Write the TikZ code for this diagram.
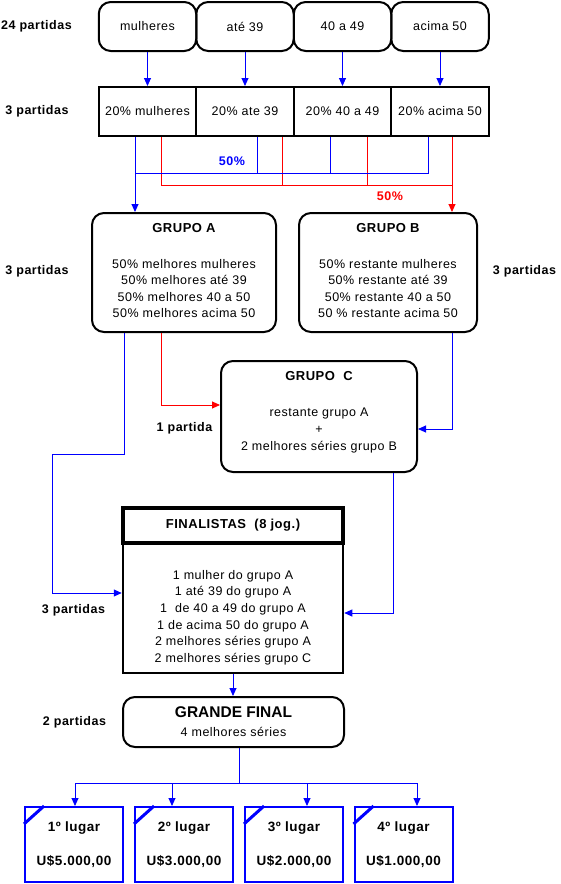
\documentclass[tikz,border=0pt]{standalone}
\usepackage{fontspec}
\setmainfont{Liberation Sans}[LetterSpace=4]
\newfontfamily\grandefonte{Liberation Sans}
\usetikzlibrary{arrows.meta,positioning}

\newcommand{\txt}{\fontsize{12.5}{16.5}\selectfont}
\newcommand{\txtb}{\fontsize{12.5}{16.5}\selectfont\bfseries}

\begin{document}
\begin{tikzpicture}[x=1pt,y=-1pt,
    seta/.style={-{Triangle[length=8pt,width=7pt]}},
    azul/.style={blue,line width=0.9pt},
    verm/.style={red,line width=0.9pt},
    caixa/.style={draw,line width=2pt,rounded corners=12pt,inner sep=0pt,align=center,font=\txt},
    celula/.style={draw,line width=2pt,minimum width=97.5pt,minimum height=49pt,inner sep=0pt,font=\txt},
    texto/.style={align=center,inner sep=0pt,font=\txt},
    rotulo/.style={font=\txtb,inner sep=0pt},
    premio/.style={draw=blue,line width=2pt,minimum width=98pt,minimum height=75pt,align=center,font=\fontsize{13.5}{16.5}\selectfont\bfseries,inner sep=0pt},
    canto/.style={blue,line width=3pt},
    ]
    \useasboundingbox (0,0) rectangle (560,884);

    % linha de cima
    \node[caixa,minimum width=97.5pt,minimum height=49pt] (mulheres) at (147.5,26.5) {mulheres};
    \node[caixa,minimum width=97.5pt,minimum height=49pt] (ate) at (245,26.5) {até 39};
    \node[caixa,minimum width=97.5pt,minimum height=49pt] (quarenta) at (342.5,26.5) {40 a 49};
    \node[caixa,minimum width=97.5pt,minimum height=49pt] (acima) at (440,26.5) {acima 50};

    \node[celula] (pmulheres) at (147.5,111.5) {20\% mulheres};
    \node[celula] (pate) at (245,111.5) {20\% ate 39};
    \node[celula] (pquarenta) at (342.5,111.5) {20\% 40 a 49};
    \node[celula] (pacima) at (440,111.5) {20\% acima 50};

    \draw[azul,seta] (mulheres) -- (pmulheres);
    \draw[azul,seta] (ate) -- (pate);
    \draw[azul,seta] (quarenta) -- (pquarenta);
    \draw[azul,seta] (acima) -- (pacima);

    % grupos
    \node[caixa,minimum width=184pt,minimum height=119pt] (grpA) at (184,272.5) {};
    \node[rotulo,font=\fontsize{13}{16.5}\selectfont\bfseries] (grpAtit) at (184,228) {GRUPO A};
    \node[texto] (grpAtxt) at (184,288.5) {50\% melhores mulheres\\50\% melhores até 39\\50\% melhores 40 a 50\\50\% melhores acima 50};

    \node[caixa,minimum width=178pt,minimum height=119pt] (grpB) at (388,272.5) {};
    \node[rotulo,font=\fontsize{13}{16.5}\selectfont\bfseries] (grpBtit) at (388,228) {GRUPO B};
    \node[texto] (grpBtxt) at (388,288.5) {50\% restante mulheres\\50\% restante até 39\\50\% restante 40 a 50\\50 \% restante acima 50};

    \node[caixa,minimum width=196pt,minimum height=111pt] (grpC) at (319,416.5) {};
    \node[rotulo,font=\fontsize{13}{16.5}\selectfont\bfseries] (grpCtit) at (319,376) {GRUPO\ \ C};
    \node[texto,font=\fontsize{12.5}{17}\selectfont] (grpCtxt) at (319,430) {restante grupo A\\+\\2 melhores séries grupo B};

    % 50% de cada categoria
    \coordinate (busazul) at (0,173);
    \coordinate (busverm) at (0,185);
    \draw[verm] ([xshift=13.5pt]pmulheres.south) |- ([xshift=12pt]pacima.south |- busverm);
    \draw[verm] ([xshift=37pt]pate.south) -- ([xshift=37pt]pate.south |- busverm);
    \draw[verm] ([xshift=24.5pt]pquarenta.south) -- ([xshift=24.5pt]pquarenta.south |- busverm);
    \draw[verm,seta] ([xshift=12pt]pacima.south) -- ([xshift=12pt]pacima.south |- grpB.north);
    \draw[azul] ([xshift=12pt]pate.south) -- ([xshift=12pt]pate.south |- busazul);
    \draw[azul] ([xshift=-12.5pt]pquarenta.south) -- ([xshift=-12.5pt]pquarenta.south |- busazul);
    \draw[azul] ([xshift=-12pt]pacima.south) |- ([xshift=-12.5pt]pmulheres.south |- busazul);
    \draw[azul,seta] ([xshift=-12.5pt]pmulheres.south) -- ([xshift=-12.5pt]pmulheres.south |- grpA.north);

    \node[rotulo,text=blue] (pcazul) at (232,161) {50\%};
    \node[rotulo,text=red] (pcverm) at (390,196) {50\%};

    % finalistas
    \node[draw,line width=2.5pt,minimum width=220pt,minimum height=130pt,inner sep=0pt] (finBody) at (233,608) {};
    \node[draw,line width=3.5pt,minimum width=220pt,minimum height=35pt,inner sep=0pt,font=\fontsize{13}{16.5}\selectfont\bfseries] (finHead) at (233,525.5) {FINALISTAS\ \ (8 jog.)};
    \node[texto,font=\fontsize{12.5}{16.6}\selectfont] (finTxt) at (233,617.5) {1 mulher do grupo A\\1 até 39 do grupo A\\1\ \ de 40 a 49 do grupo A\\1 de acima 50 do grupo A\\2 melhores séries grupo A\\2 melhores séries grupo C};

    \draw[verm,seta] ([xshift=-23pt]grpA.south) |- ([yshift=11.5pt]grpC.west);
    \draw[azul,seta] ([xshift=64pt]grpB.south) |- ([yshift=-12.5pt]grpC.east);
    \coordinate (dobra) at (52,454);
    \draw[azul,seta] ([xshift=-60pt]grpA.south) |- (dobra) |- ([yshift=15pt]finBody.west);
    \draw[azul,seta] ([xshift=74pt]grpC.south) |- ([yshift=-5pt]finBody.east);

    % grande final
    \node[caixa,minimum width=221pt,minimum height=50pt] (gfinal) at (233.5,722) {{\grandefonte\fontsize{15.5}{18}\selectfont\bfseries GRANDE FINAL}\\[2.5pt]4 melhores séries};
    \draw[azul,seta] (finBody.south) -- (finBody.south |- gfinal.north);

    % premios
    \node[premio] (l1) at (74,844.5) {1º lugar\\[17.5pt]U\$5.000,00};
    \node[premio] (l2) at (184,844.5) {2º lugar\\[17.5pt]U\$3.000,00};
    \node[premio] (l3) at (294,844.5) {3º lugar\\[17.5pt]U\$2.000,00};
    \node[premio] (l4) at (403.5,844.5) {4º lugar\\[17.5pt]U\$1.000,00};
    \draw[canto] ([yshift=-18pt]l1.north west) -- ([xshift=20pt]l1.north west);
    \draw[canto] ([yshift=-18pt]l2.north west) -- ([xshift=20pt]l2.north west);
    \draw[canto] ([yshift=-18pt]l3.north west) -- ([xshift=20pt]l3.north west);
    \draw[canto] ([yshift=-18pt]l4.north west) -- ([xshift=20pt]l4.north west);

    \coordinate (barra) at (0,783);
    \draw[azul] ([xshift=5.5pt]gfinal.south) -- ([xshift=5.5pt]gfinal.south |- barra);
    \draw[azul] ([xshift=1pt]l1.north |- barra) -- ([xshift=13.5pt]l4.north |- barra);
    \draw[azul,seta] ([xshift=1pt]l1.north |- barra) -- ([xshift=1pt]l1.north);
    \draw[azul,seta] ([xshift=-12pt]l2.north |- barra) -- ([xshift=-12pt]l2.north);
    \draw[azul,seta] ([xshift=13pt]l3.north |- barra) -- ([xshift=13pt]l3.north);
    \draw[azul,seta] ([xshift=13.5pt]l4.north |- barra) -- ([xshift=13.5pt]l4.north);

    % partidas
    \node[rotulo] (r24) at (36.5,26) {24 partidas};
    \node[rotulo] (r3a) at (37,111) {3 partidas};
    \node[rotulo] (r3b) at (37,271) {3 partidas};
    \node[rotulo] (r3c) at (524.5,271) {3 partidas};
    \node[rotulo] (r1) at (184.5,428) {1 partida};
    \node[rotulo] (r3d) at (73.5,610) {3 partidas};
    \node[rotulo] (r2) at (74.5,722) {2 partidas};
\end{tikzpicture}
\end{document}
